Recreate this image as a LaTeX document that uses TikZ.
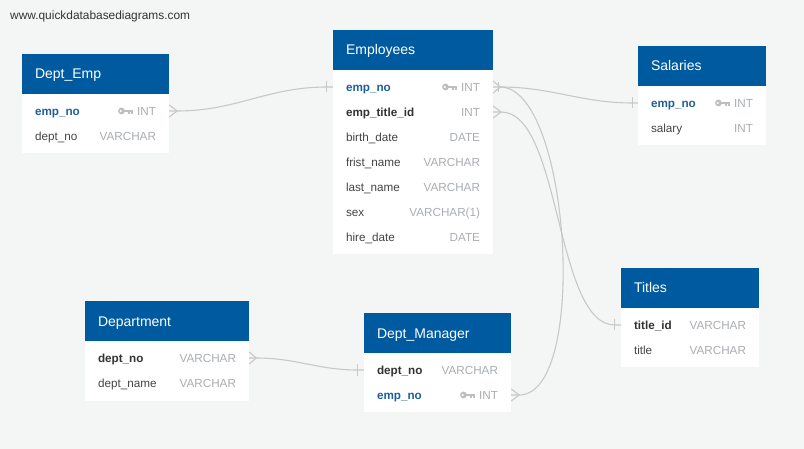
\documentclass[tikz,border=0pt]{standalone}
\usepackage{fontspec}
\setmainfont{Liberation Sans}
\usetikzlibrary{positioning}

\definecolor{qdbbg}{RGB}{244,245,245}
\definecolor{qdbblue}{RGB}{0,90,160}
\definecolor{pkblue}{RGB}{30,95,155}
\definecolor{fldtxt}{RGB}{68,68,68}
\definecolor{fktxt}{RGB}{51,51,51}
\definecolor{typtxt}{RGB}{170,174,178}
\definecolor{keygray}{RGB}{188,191,194}
\definecolor{relgray}{RGB}{200,200,200}

\tikzset{
  head/.style={fill=qdbblue, inner sep=0, minimum height=40pt},
  body/.style={fill=white, inner sep=0},
  ttl/.style={text=white, inner sep=0, text height=10pt, text depth=0pt, font=\fontsize{14}{16}\selectfont},
  rowbox/.style={inner sep=0, minimum height=25pt},
  fld/.style={text=fldtxt, inner sep=0, text height=8.4pt, text depth=0pt, font=\fontsize{11.7}{14}\selectfont},
  fk/.style={fld, text=fktxt, font=\fontsize{11.7}{14}\selectfont\bfseries},
  pk/.style={fk, text=pkblue},
  typ/.style={fld, text=typtxt},
  rel/.style={draw=relgray, line width=1.1pt},
  pics/pkkey/.style={code={
    \fill[keygray] (-15.5,0) circle (3.4pt);
    \fill[white] (-16.2,0) circle (1.2pt);
    \fill[keygray] (-13,-1.3) rectangle (-4,1.1);
    \fill[keygray] (-8.5,1) rectangle (-7,3.2);
    \fill[keygray] (-5.5,1) rectangle (-4,3.2);
  }},
}

\begin{document}
\begin{tikzpicture}[x=1pt, y=-1pt]

  \fill[qdbbg] (0,0) rectangle (804,449);
  \node[fld, anchor=base west, text=fktxt, font=\fontsize{11.9}{14}\selectfont] (url) at (10,19.5) {www.quickdatabasediagrams.com};

  % Dept_Emp
  \node[head, minimum width=147pt] (de) at (95.5,74) {};
  \node[ttl, right=13pt of de.west] (de-t) {Dept\_Emp};
  \node[body, minimum width=147pt, minimum height=59pt, below=0pt of de] (de-b) {};
  \node[rowbox, minimum width=147pt] (de-empno) at (95.5,111) {};
  \node[pk, right=13pt of de-empno.west] (de-empno-n) {emp\_no};
  \node[typ, left=13pt of de-empno.east] (de-empno-ty) {INT};
  \pic at (de-empno-ty.west) {pkkey};
  \node[rowbox, minimum width=147pt] (de-deptno) at (95.5,136) {};
  \node[fld, right=13pt of de-deptno.west] (de-deptno-n) {dept\_no};
  \node[typ, left=13pt of de-deptno.east] (de-deptno-ty) {VARCHAR};

  % Employees
  \node[head, minimum width=160pt] (emp) at (413,50) {};
  \node[ttl, right=13pt of emp.west] (emp-t) {Employees};
  \node[body, minimum width=160pt, minimum height=184pt, below=0pt of emp] (emp-b) {};
  \node[rowbox, minimum width=160pt] (emp-empno) at (413,87) {};
  \node[pk, right=13pt of emp-empno.west] (emp-empno-n) {emp\_no};
  \node[typ, left=13pt of emp-empno.east] (emp-empno-ty) {INT};
  \pic at (emp-empno-ty.west) {pkkey};
  \node[rowbox, minimum width=160pt] (emp-titleid) at (413,112) {};
  \node[fk, right=13pt of emp-titleid.west] (emp-titleid-n) {emp\_title\_id};
  \node[typ, left=13pt of emp-titleid.east] (emp-titleid-ty) {INT};
  \node[rowbox, minimum width=160pt] (emp-birth) at (413,137) {};
  \node[fld, right=13pt of emp-birth.west] (emp-birth-n) {birth\_date};
  \node[typ, left=13pt of emp-birth.east] (emp-birth-ty) {DATE};
  \node[rowbox, minimum width=160pt] (emp-first) at (413,162) {};
  \node[fld, right=13pt of emp-first.west] (emp-first-n) {frist\_name};
  \node[typ, left=13pt of emp-first.east] (emp-first-ty) {VARCHAR};
  \node[rowbox, minimum width=160pt] (emp-last) at (413,187) {};
  \node[fld, right=13pt of emp-last.west] (emp-last-n) {last\_name};
  \node[typ, left=13pt of emp-last.east] (emp-last-ty) {VARCHAR};
  \node[rowbox, minimum width=160pt] (emp-sex) at (413,212) {};
  \node[fld, right=13pt of emp-sex.west] (emp-sex-n) {sex};
  \node[typ, left=13pt of emp-sex.east] (emp-sex-ty) {VARCHAR(1)};
  \node[rowbox, minimum width=160pt] (emp-hire) at (413,237) {};
  \node[fld, right=13pt of emp-hire.west] (emp-hire-n) {hire\_date};
  \node[typ, left=13pt of emp-hire.east] (emp-hire-ty) {DATE};

  % Salaries
  \node[head, minimum width=128pt] (sal) at (702,66) {};
  \node[ttl, right=13pt of sal.west] (sal-t) {Salaries};
  \node[body, minimum width=128pt, minimum height=59pt, below=0pt of sal] (sal-b) {};
  \node[rowbox, minimum width=128pt] (sal-empno) at (702,103) {};
  \node[pk, right=13pt of sal-empno.west] (sal-empno-n) {emp\_no};
  \node[typ, left=13pt of sal-empno.east] (sal-empno-ty) {INT};
  \pic at (sal-empno-ty.west) {pkkey};
  \node[rowbox, minimum width=128pt] (sal-salary) at (702,128) {};
  \node[fld, right=13pt of sal-salary.west] (sal-salary-n) {salary};
  \node[typ, left=13pt of sal-salary.east] (sal-salary-ty) {INT};

  % Titles
  \node[head, minimum width=138pt] (ti) at (690,288) {};
  \node[ttl, right=13pt of ti.west] (ti-t) {Titles};
  \node[body, minimum width=138pt, minimum height=59pt, below=0pt of ti] (ti-b) {};
  \node[rowbox, minimum width=138pt] (ti-titleid) at (690,325) {};
  \node[fk, right=13pt of ti-titleid.west] (ti-titleid-n) {title\_id};
  \node[typ, left=13pt of ti-titleid.east] (ti-titleid-ty) {VARCHAR};
  \node[rowbox, minimum width=138pt] (ti-title) at (690,350) {};
  \node[fld, right=13pt of ti-title.west] (ti-title-n) {title};
  \node[typ, left=13pt of ti-title.east] (ti-title-ty) {VARCHAR};

  % Department
  \node[head, minimum width=164pt] (dep) at (167,321.5) {};
  \node[ttl, right=13pt of dep.west] (dep-t) {Department};
  \node[body, minimum width=164pt, minimum height=59pt, below=0pt of dep] (dep-b) {};
  \node[rowbox, minimum width=164pt] (dep-deptno) at (167,358) {};
  \node[fk, right=13pt of dep-deptno.west] (dep-deptno-n) {dept\_no};
  \node[typ, left=13pt of dep-deptno.east] (dep-deptno-ty) {VARCHAR};
  \node[rowbox, minimum width=164pt] (dep-name) at (167,383) {};
  \node[fld, right=13pt of dep-name.west] (dep-name-n) {dept\_name};
  \node[typ, left=13pt of dep-name.east] (dep-name-ty) {VARCHAR};

  % Dept_Manager
  \node[head, minimum width=147pt] (dm) at (437.5,333) {};
  \node[ttl, right=13pt of dm.west] (dm-t) {Dept\_Manager};
  \node[body, minimum width=147pt, minimum height=59pt, below=0pt of dm] (dm-b) {};
  \node[rowbox, minimum width=147pt] (dm-deptno) at (437.5,370) {};
  \node[fk, right=13pt of dm-deptno.west] (dm-deptno-n) {dept\_no};
  \node[typ, left=13pt of dm-deptno.east] (dm-deptno-ty) {VARCHAR};
  \node[rowbox, minimum width=147pt] (dm-empno) at (437.5,395) {};
  \node[pk, right=13pt of dm-empno.west] (dm-empno-n) {emp\_no};
  \node[typ, left=13pt of dm-empno.east] (dm-empno-ty) {INT};
  \pic at (dm-empno-ty.west) {pkkey};

  % relations
  \draw[rel] (de-empno.east) ++(0,-6) -- ++(8,6) -- ++(-8,6);
  \draw[rel] (de-empno.east) -- ++(8,0) to[out=0,in=180] ([xshift=-6pt]emp-empno.west) -- (emp-empno.west);
  \draw[rel] ([xshift=-6pt,yshift=5.5pt]emp-empno.west) -- ++(0,11);

  \draw[rel] (emp-empno.east) ++(0,-6) -- ++(7,6) -- ++(-7,6);
  \draw[rel] ([xshift=5pt,yshift=5pt]emp-empno.east) -- ++(0,10);
  \draw[rel] (emp-empno.east) -- ++(7,0) to[out=0,in=180] ([xshift=-5pt]sal-empno.west) -- (sal-empno.west);
  \draw[rel] ([xshift=-5pt,yshift=5.5pt]sal-empno.west) -- ++(0,11);
  \draw[rel] ([xshift=7pt]emp-empno.east) .. controls +(70,0) and +(70,0) .. ([xshift=8pt]dm-empno.east) -- (dm-empno.east);
  \draw[rel] (dm-empno.east) ++(0,-6) -- ++(8,6) -- ++(-8,6);

  \draw[rel] (emp-titleid.east) ++(0,-6) -- ++(8,6) -- ++(-8,6);
  \draw[rel] (emp-titleid.east) -- ++(8,0) .. controls +(60,0) and +(-60,0) .. ([xshift=-6pt]ti-titleid.west) -- (ti-titleid.west);
  \draw[rel] ([xshift=-6pt,yshift=5.5pt]ti-titleid.west) -- ++(0,11);

  \draw[rel] (dep-deptno.east) ++(0,-6) -- ++(7,6) -- ++(-7,6);
  \draw[rel] (dep-deptno.east) -- ++(7,0) to[out=0,in=180] ([xshift=-6pt]dm-deptno.west) -- (dm-deptno.west);
  \draw[rel] ([xshift=-6pt,yshift=5.5pt]dm-deptno.west) -- ++(0,11);

\end{tikzpicture}
\end{document}
